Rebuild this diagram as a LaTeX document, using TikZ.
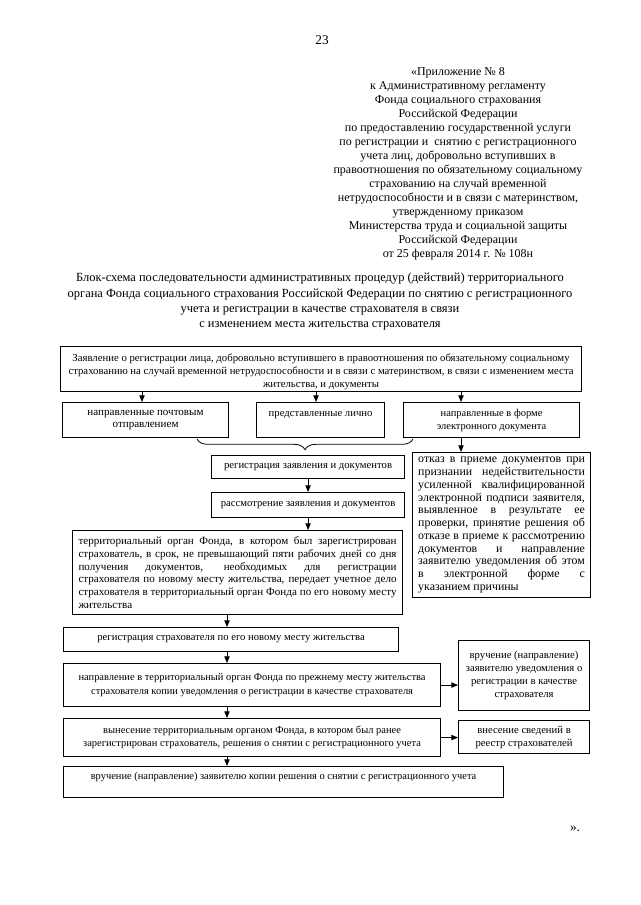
\documentclass[tikz,border=0pt]{standalone}
\usepackage{fontspec}
\setmainfont{Liberation Serif}
\usetikzlibrary{arrows.meta,decorations.pathreplacing,calc}
\begin{document}
\begin{tikzpicture}[x=0.75pt,y=-0.75pt,
  box/.style={draw, line width=0.85pt, rectangle, inner sep=1.5pt, font=\fontsize{8}{9.7}\selectfont, align=center, anchor=north west},
  jbox/.style={box, align=justify},
  arr/.style={-{Triangle[length=5pt,width=4pt]}, line width=0.7pt},
  hdr/.style={font=\fontsize{9}{10.5}\selectfont, align=center, inner sep=0pt},
  ttl/.style={font=\fontsize{9.35}{11.5}\selectfont, align=center, inner sep=0pt}]
\useasboundingbox[fill=white] (0,0) rectangle (640,905);

\node[inner sep=0pt, font=\fontsize{10}{12}\selectfont] (pg) at (322,40) {23};
\node[hdr, anchor=north] (app) at (458,67) {«Приложение №~8\\к Административному регламенту\\Фонда социального страхования\\Российской Федерации\\по предоставлению государственной услуги\\по регистрации и~~снятию с регистрационного\\учета лиц, добровольно вступивших в\\правоотношения по обязательному социальному\\страхованию на случай временной\\нетрудоспособности и в связи с материнством,\\утвержденному приказом\\Министерства труда и социальной защиты\\Российской Федерации\\от 25 февраля 2014 г. №~108н};
\node[ttl, anchor=north] (title) at (320,273) {Блок-схема последовательности административных процедур (действий) территориального\\органа Фонда социального страхования Российской Федерации по снятию с регистрационного\\учета и регистрации в качестве страхователя в связи\\с изменением места жительства страхователя};

\node[box, minimum width=390.75pt, minimum height=33.75pt, font=\fontsize{8.05}{9.7}\selectfont] (top) at (60,346) {\rule{0pt}{9.3pt}Заявление о регистрации лица, добровольно вступившего в правоотношения по обязательному социальному\\страхованию на случай временной нетрудоспособности и в связи с материнством, в связи с изменением места\\жительства, и документы};

\node[box, minimum width=124.5pt, minimum height=26.25pt, font=\fontsize{8.3}{9.7}\selectfont] (b1) at (62,402) {направленные почтовым\\отправлением};
\node[box, minimum width=96pt, minimum height=26.25pt] (b2) at (256,402) {представленные лично\\\phantom{л}};
\node[box, minimum width=132pt, minimum height=26.25pt, font=\fontsize{7.85}{9.7}\selectfont] (b3) at (403,402) {направленные в форме\\электронного документа};

\node[box, minimum width=144.75pt, minimum height=17.25pt] (reg) at (211,455) {регистрация заявления и документов};
\node[box, minimum width=144.75pt, minimum height=18.75pt] (rev) at (211,492) {рассмотрение заявления и документов};

\node[jbox, minimum width=247.5pt, minimum height=63pt, text width=238.5pt, font=\fontsize{8.3}{9.7}\selectfont] (big) at (72,530) {территориальный орган Фонда, в котором был зарегистрирован\linebreak страхователь, в срок, не превышающий пяти рабочих дней со дня\linebreak получения документов, необходимых для регистрации\linebreak страхователя по новому месту жительства, передает учетное дело\linebreak страхователя в территориальный орган Фонда по его новому месту\linebreak жительства};

\node[jbox, minimum width=133.5pt, minimum height=108.75pt, text width=125pt, font=\fontsize{8.9}{9.55}\selectfont] (ref) at (412,452) {отказ в приеме документов при\linebreak признании недействительности\linebreak усиленной квалифицированной\linebreak электронной подписи заявителя,\linebreak выявленное в результате ее\linebreak проверки, принятие решения об\linebreak отказе в приеме к рассмотрению\linebreak документов и направление\linebreak заявителю уведомления об этом\linebreak в электронной форме с\linebreak указанием причины};

\node[box, minimum width=251.25pt, minimum height=18pt] (reg2) at (63,627) {регистрация страхователя по его новому месту жительства};
\node[box, minimum width=282.75pt, minimum height=32.25pt, font=\fontsize{7.85}{10}\selectfont] (nap) at (63,663) {направление в территориальный орган Фонда по прежнему месту жительства\\страхователя копии уведомления о регистрации в качестве страхователя};
\node[box, minimum width=98.25pt, minimum height=52.5pt] (r1) at (458,640) {вручение (направление)\\заявителю уведомления о\\регистрации в качестве\\страхователя};
\node[box, minimum width=282.75pt, minimum height=28.5pt, font=\fontsize{7.85}{10}\selectfont] (vyn) at (63,718) {вынесение территориальным органом Фонда, в котором был ранее\\зарегистрирован страхователь, решения о снятии с регистрационного учета};
\node[box, minimum width=98.25pt, minimum height=24.75pt] (r2) at (458,720) {внесение сведений в\\реестр страхователей};
\node[box, minimum width=330pt, minimum height=23.25pt, font=\fontsize{7.85}{9.7}\selectfont] (fin) at (63,766) {вручение (направление) заявителю копии решения о снятии с регистрационного учета\\\phantom{л}};

\node[inner sep=0pt, font=\fontsize{10}{12}\selectfont] (end) at (575,829) {».};

% connectors
\coordinate (c3) at ($(b3.south west)+(58,0)$);
\coordinate (c1) at ($(b1.north west)+(80,0)$);
\coordinate (c2) at ($(b2.north west)+(60,0)$);
\coordinate (c4) at ($(reg2.north west)+(164,0)$);
\draw[arr] (top.south -| c1) -- (c1);
\draw[arr] (top.south -| c2) -- (c2);
\draw[arr] (top.south -| c3) -- (b3.north -| c3);
\draw[arr] (c3) -- (c3 |- ref.north);
\draw[line width=0.6pt, decorate, decoration={brace, mirror, amplitude=8pt}] (197,439) -- (413,439);
\coordinate (btip) at (305,451);
\draw[arr] (reg.south) -- (rev.north);
\draw[arr] (rev.south) -- (rev.south |- big.north);
\draw[arr] (big.south -| c4) -- (c4);
\draw[arr] (reg2.south -| c4) -- (nap.north -| c4);
\draw[arr] (nap.south -| c4) -- (vyn.north -| c4);
\draw[arr] (vyn.south -| c4) -- (fin.north -| c4);
\draw[arr] (nap.east) -- (nap.east -| r1.west);
\draw[arr] (vyn.east) -- (vyn.east -| r2.west);
\end{tikzpicture}
\end{document}
